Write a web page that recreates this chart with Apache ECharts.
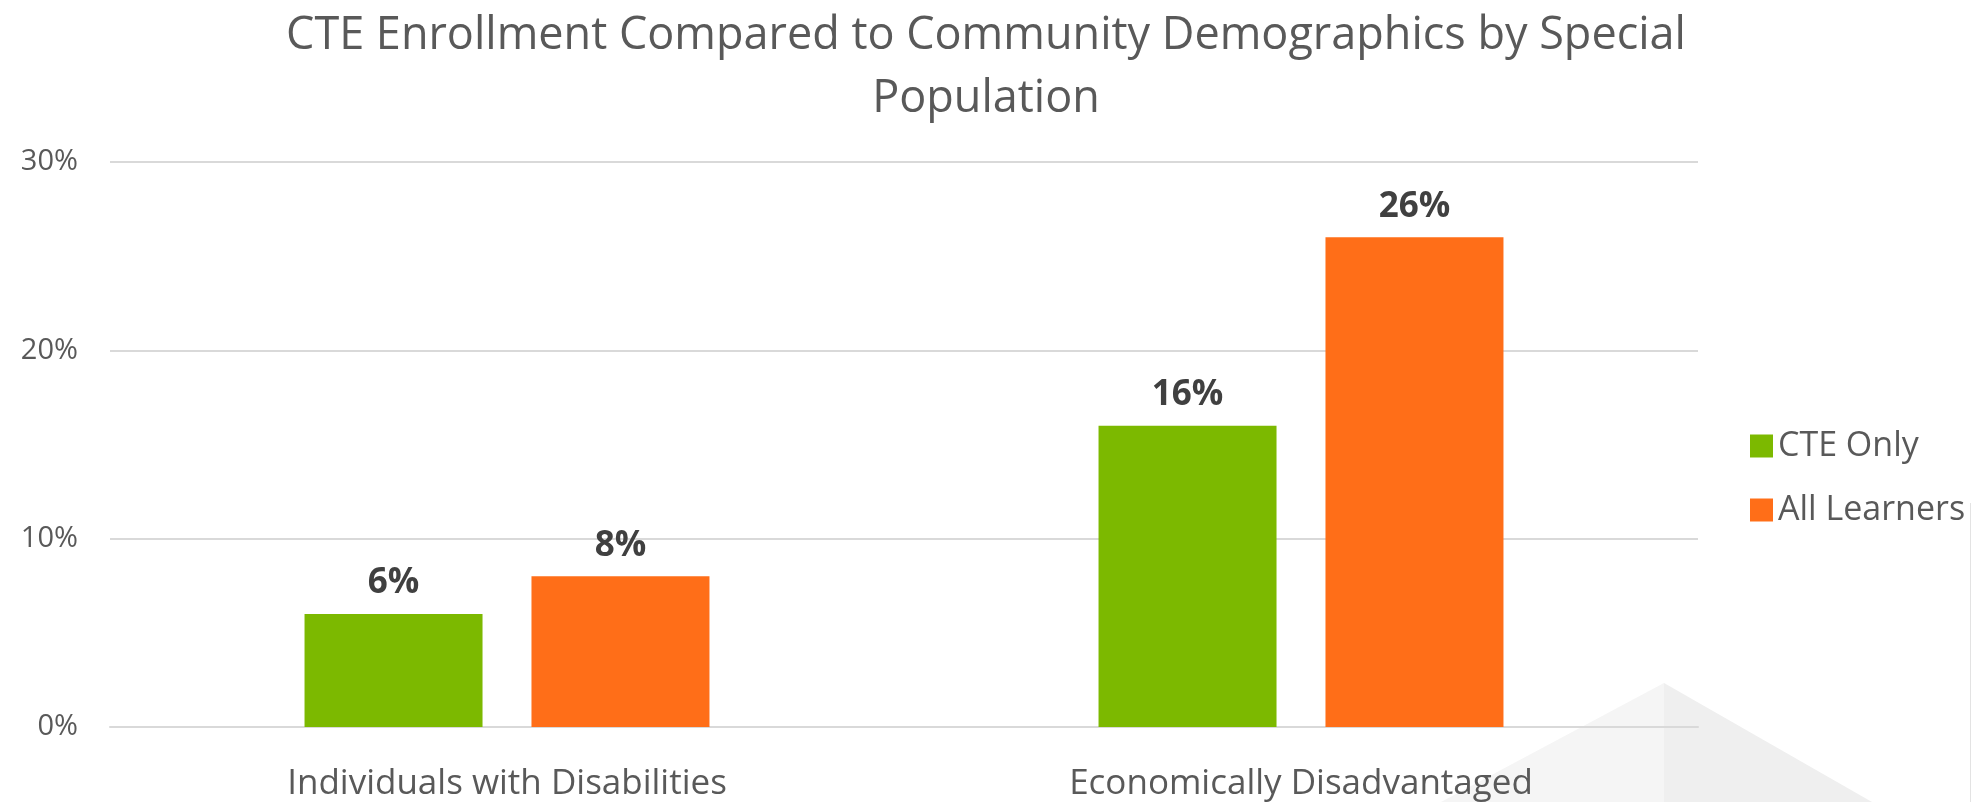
<!DOCTYPE html>
<html>
<head>
<meta charset="utf-8" />
<title>CTE Enrollment</title>
<script src="https://cdn.jsdelivr.net/npm/echarts@6/dist/echarts.min.js"></script>
<style>
  html, body { margin: 0; padding: 0; background: #fff; }
  #chart { width: 1972px; height: 802px; }
</style>
</head>
<body>
<div id="chart"></div>
<script>
// categories and values (percent)
const categories = ["Individuals with Disabilities", "Economically Disadvantaged"];
const cteOnly = [6, 16];
const allLearners = [8, 26];
const seriesNames = ["CTE Only", "All Learners"];

const fontFamily = "'Open Sans', 'Noto Sans', sans-serif";
const textColor = "#595959";

const chart = echarts.init(document.getElementById("chart"));

const option = {
  animation: false,
  backgroundColor: "#ffffff",
  title: {
    text: "CTE Enrollment Compared to Community Demographics by Special\nPopulation",
    left: "center",
    top: 0,
    textStyle: {
      fontFamily: fontFamily,
      fontSize: 45,
      fontWeight: "normal",
      color: textColor,
      lineHeight: 63,
    },
  },
  legend: {
    orient: "vertical",
    left: 1745,
    top: 424,
    itemWidth: 23,
    itemHeight: 23,
    itemGap: 30,
    itemStyle: { borderWidth: 0 },
    icon: "rect",
    textStyle: {
      fontFamily: fontFamily,
      fontSize: 34,
      color: textColor,
      padding: [0, 0, 0, 0],
    },
    data: seriesNames,
  },
  grid: {
    left: 110,
    right: 274,
    top: 162,
    bottom: 74,
  },
  xAxis: {
    type: "category",
    data: categories,
    axisLine: { show: true, lineStyle: { color: "#d9d9d9", width: 2 } },
    axisTick: { show: false },
    axisLabel: {
      margin: 40,
      fontFamily: fontFamily,
      fontSize: 35,
      color: textColor,
    },
  },
  yAxis: {
    type: "value",
    min: 0,
    max: 30,
    interval: 10,
    axisLine: { show: false },
    axisTick: { show: false },
    axisLabel: {
      formatter: "{value}%",
      margin: 32,
      fontFamily: fontFamily,
      fontSize: 29,
      color: textColor,
    },
    splitLine: { lineStyle: { color: "#d9d9d9", width: 2 } },
  },
  graphic: [
    {
      type: "polygon",
      z: -10,
      shape: { points: [[1664, 683], [1441, 802], [1664, 802]] },
      style: { fill: "#f5f5f5" },
    },
    {
      type: "polygon",
      z: -10,
      shape: { points: [[1664, 683], [1872, 802], [1664, 802]] },
      style: { fill: "#efefef" },
    },
    {
      type: "line",
      z: -10,
      shape: { x1: 1970.5, y1: 503, x2: 1970.5, y2: 802 },
      style: { stroke: "#e3e3e3", lineWidth: 1 },
    },
  ],
  series: [
    {
      name: seriesNames[0],
      type: "bar",
      data: cteOnly,
      barCategoryGap: "49%",
      barGap: "27.5%",
      itemStyle: { color: "#7cb900" },
      label: {
        show: true,
        position: "top",
        distance: 13,
        formatter: "{c}%",
        fontFamily: fontFamily,
        fontSize: 35,
        fontWeight: "bold",
        color: "#404040",
      },
    },
    {
      name: seriesNames[1],
      type: "bar",
      data: allLearners,
      barCategoryGap: "49%",
      barGap: "27.5%",
      itemStyle: { color: "#ff6e18" },
      label: {
        show: true,
        position: "top",
        distance: 13,
        formatter: "{c}%",
        fontFamily: fontFamily,
        fontSize: 35,
        fontWeight: "bold",
        color: "#404040",
      },
    },
  ],
};

chart.setOption(option);
</script>
</body>
</html>
